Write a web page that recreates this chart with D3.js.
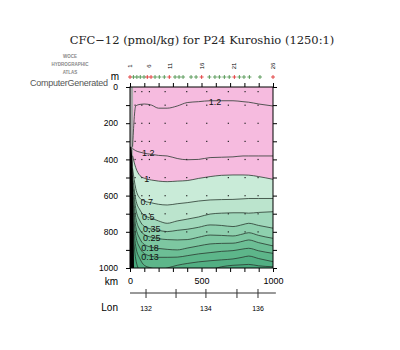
<!DOCTYPE html>
<html><head><meta charset="utf-8">
<script src="https://cdn.jsdelivr.net/npm/d3@7"></script>
<style>
html,body{margin:0;padding:0;background:#fff;}
svg{display:block;}
text{font-family:"Liberation Sans",Arial,sans-serif;}
</style></head>
<body>
<svg id="chart" width="400" height="350"></svg>
<script>
// ---------- DATA ----------
const titleText = "CFC\u221212 (pmol/kg) for P24 Kuroshio (1250:1)";
const depthTicks = [0,100,200,300,400,500,600,700,800,900,1000];
const depthLabels = [0,200,400,600,800,1000];
const kmTicks = [0,100,200,300,400,500,600,700,800,900,1000];
const kmLabels = [0,500,1000];
const lonTicks = [132,133,134,135,136];
const lonTickKm = [112,322,531,748,895];
const lonLabels = [132,134,136];
const stationKm = [0,24,48,72,98,121,147,175,205,240,275,315,343,371,427,462,501,555,594,625,660,694,730,765,797,835,909,1000];
const labelNums = [1,6,11,16,21,26];
const labelKm = [0,133,280,503,727,1000];
const sampleKm = [35,82,135,245,396,536,687,804,895];
const sampleDepth = [25,100,200,300,400,500,600,700,800];
// contour grid (km) and contour depths (m) per level
const gridKm = [18,40,70,100,150,200,260,330,400,480,560,640,720,790,830,900,1000];
const c12a = [330,105,96,94,100,117,117,105,86,81,76,76,76,81,84,94,105];
const c12b = [340,352,360,366,372,378,381,395,402,400,390,388,386,381,381,381,381];
const c100 = [380,445,490,504,514,520,523,520,517,505,495,488,486,486,487,495,510];
const c070 = [450,560,615,630,640,648,652,645,639,630,624,622,621,618,616,616,616];
const c050 = [490,620,680,710,725,740,753,740,730,718,702,697,695,695,697,693,689];
const c035 = [520,670,740,770,785,792,799,792,786,775,762,765,771,760,753,765,780];
const c025 = [560,720,790,815,830,838,843,845,843,830,818,820,823,812,805,820,836];
const c018 = [600,770,840,870,885,892,897,900,890,878,867,864,863,852,845,860,878];
const c013 = [640,820,890,920,935,941,941,940,932,922,915,908,904,895,891,905,919];
const c010 = [700,880,950,985,1000,1010,1000,985,975,966,960,955,950,940,934,948,965];
const c008 = [760,950,1020,1050,1060,1060,1050,1035,1025,1015,1010,993,985,982,980,988,993];
const labelText = ["1.2","1.2","1","0.7","0.5","0.35","0.25","0.18","0.13"];
const labelPosKm = [594,128,117,117,128,152,152,140,140];
const labelPosDepth = [81,363,510,637,717,781,836,886,938];
const bathyKm = [0,10,18,22,28,0];
const bathyDepth = [330,330,420,600,1000,1000];
// ---------- STYLE ----------
const bandColors = {base:"#48a87c", c008:"#52af83", c010:"#5db68a", c013:"#6cbe95", c018:"#7dc7a1",
  c025:"#8ed0ae", c035:"#a0d8bb", c050:"#bbe4cd", c070:"#c9ebd8", c100:"#f6bbdf"};

const svg = d3.select("#chart");
const x = d3.scaleLinear().domain([0,1000]).range([130,273]);
const y = d3.scaleLinear().domain([0,1000]).range([87,268]);

// title
svg.append("text").attr("x",202).attr("y",44).attr("text-anchor","middle")
  .style("font-family","'DejaVu Serif','Liberation Serif',serif").style("font-size","11.5px").attr("fill","#222").text(titleText);

// logo
const logo = svg.append("g").attr("fill","#888").style("font-weight","bold").style("font-size","4.5px").attr("text-anchor","middle");
logo.append("text").attr("x",70).attr("y",58).text("WOCE");
logo.append("text").attr("x",70).attr("y",66).text("HYDROGRAPHIC");
logo.append("text").attr("x",70).attr("y",74).text("ATLAS");
svg.append("text").attr("x",108).attr("y",86).attr("text-anchor","end").attr("fill","#555")
  .style("font-size","9px").attr("textLength",78).text("ComputerGenerated");

// clip
svg.append("clipPath").attr("id","clip").append("rect")
  .attr("x",x(0)).attr("y",y(0)).attr("width",x(1000)-x(0)).attr("height",y(1000)-y(0));
const plot = svg.append("g").attr("clip-path","url(#clip)");

plot.append("rect").attr("x",x(0)).attr("y",y(0)).attr("width",x(1000)-x(0)).attr("height",y(1000)-y(0))
  .attr("fill",bandColors.base);

const levels = [["c008",c008],["c010",c010],["c013",c013],["c018",c018],["c025",c025],["c035",c035],["c050",c050],["c070",c070],["c100",c100]];
const area = d3.area().x((d,i)=>x(gridKm[i])).y0(y(-10)).y1(d=>y(d)).curve(d3.curveMonotoneX);
const line = d3.line().x((d,i)=>x(gridKm[i])).y(d=>y(d)).curve(d3.curveMonotoneX);

levels.forEach(([k,arr])=>{
  plot.append("path").datum(arr).attr("d",area).attr("fill",bandColors[k]);
});
// no-data strip left of first grid point
plot.append("rect").attr("x",x(0)).attr("y",y(0)).attr("width",x(gridKm[0])-x(0)+0.5).attr("height",y(1000)-y(0)).attr("fill","#aaa");

[c008,c010,c013,c018,c025,c035,c050,c070,c100,c12b,c12a].forEach(arr=>{
  plot.append("path").datum(arr).attr("d",line).attr("fill","none").attr("stroke","#2a3a30").attr("stroke-width",0.8);
});

// bathymetry at the left wall
plot.append("path").datum(bathyKm.map((k,i)=>[k,bathyDepth[i]]))
  .attr("d",d3.line().x(d=>x(d[0])).y(d=>y(d[1]))).attr("fill","#000");

// sample dots
sampleKm.forEach(k=>sampleDepth.forEach(dp=>{
  plot.append("rect").attr("x",x(k)-0.5).attr("y",y(dp)-0.5).attr("width",1.2).attr("height",1.2).attr("fill","#222");
}));

// contour labels
labelText.forEach((t,i)=>{
  plot.append("text").attr("x",x(labelPosKm[i])).attr("y",y(labelPosDepth[i])).attr("dy","0.35em")
    .attr("text-anchor","middle").style("font-size","9px").attr("fill","#111").text(t);
});

// frame
svg.append("rect").attr("x",x(0)).attr("y",y(0)).attr("width",x(1000)-x(0)).attr("height",y(1000)-y(0))
  .attr("fill","none").attr("stroke","#000").attr("stroke-width",1);

// axes
const axStyle = g=>{ g.select(".domain").remove(); g.selectAll("line").attr("stroke","#000"); g.selectAll("text").style("font-family","'Liberation Sans',Arial,sans-serif").attr("fill","#000"); };
svg.append("g").attr("transform",`translate(${x(0)},0)`)
  .call(d3.axisLeft(y).tickValues(depthTicks).tickSize(4).tickPadding(8).tickFormat(d=>depthLabels.includes(d)?d:""))
  .call(axStyle).selectAll("text").style("font-size","8.5px");
svg.append("g").attr("transform",`translate(${x(1000)},0)`)
  .call(d3.axisRight(y).tickValues(depthTicks).tickSize(4).tickFormat("")).call(axStyle);
svg.append("g").attr("transform",`translate(0,${y(0)})`)
  .call(d3.axisTop(x).tickValues(kmTicks).tickSize(4).tickFormat("")).call(axStyle);
svg.append("g").attr("transform",`translate(0,${y(1000)})`)
  .call(d3.axisBottom(x).tickValues(kmTicks).tickSize(4).tickPadding(6).tickFormat(d=>kmLabels.includes(d)?d:""))
  .call(axStyle).selectAll("text").style("font-size","9px");

svg.append("text").attr("x",119).attr("y",80).attr("text-anchor","end").style("font-size","10px").text("m");
svg.append("text").attr("x",118).attr("y",285).attr("text-anchor","end").style("font-size","10px").text("km");
svg.append("text").attr("x",118).attr("y",311).attr("text-anchor","end").style("font-size","10px").text("Lon");

// Lon axis
const lonG = svg.append("g");
lonG.append("line").attr("x1",x(0)).attr("x2",x(1020)).attr("y1",293).attr("y2",293).attr("stroke","#333");
lonTicks.forEach((l,i)=>{
  lonG.append("line").attr("x1",x(lonTickKm[i])).attr("x2",x(lonTickKm[i])).attr("y1",289).attr("y2",298).attr("stroke","#333");
  if(lonLabels.includes(l)) lonG.append("text").attr("x",x(lonTickKm[i])).attr("y",311).attr("text-anchor","middle").style("font-size","7px").text(l);
});

// stations
stationKm.forEach(k=>{
  const red = labelKm.some(lk=>Math.abs(lk-k)<15);
  const c = red ? "#d22" : "#3f8a3f";
  svg.append("line").attr("x1",x(k)-2).attr("x2",x(k)+2).attr("y1",77).attr("y2",77).attr("stroke",c).attr("stroke-width",0.8);
  svg.append("line").attr("x1",x(k)).attr("x2",x(k)).attr("y1",75).attr("y2",79).attr("stroke",c).attr("stroke-width",0.8);
});
labelNums.forEach((n,i)=>{
  svg.append("text").attr("transform",`translate(${x(labelKm[i])+2},66) rotate(-90)`)
    .attr("text-anchor","middle").style("font-size","6px").text(n);
});
</script>
</body></html>
